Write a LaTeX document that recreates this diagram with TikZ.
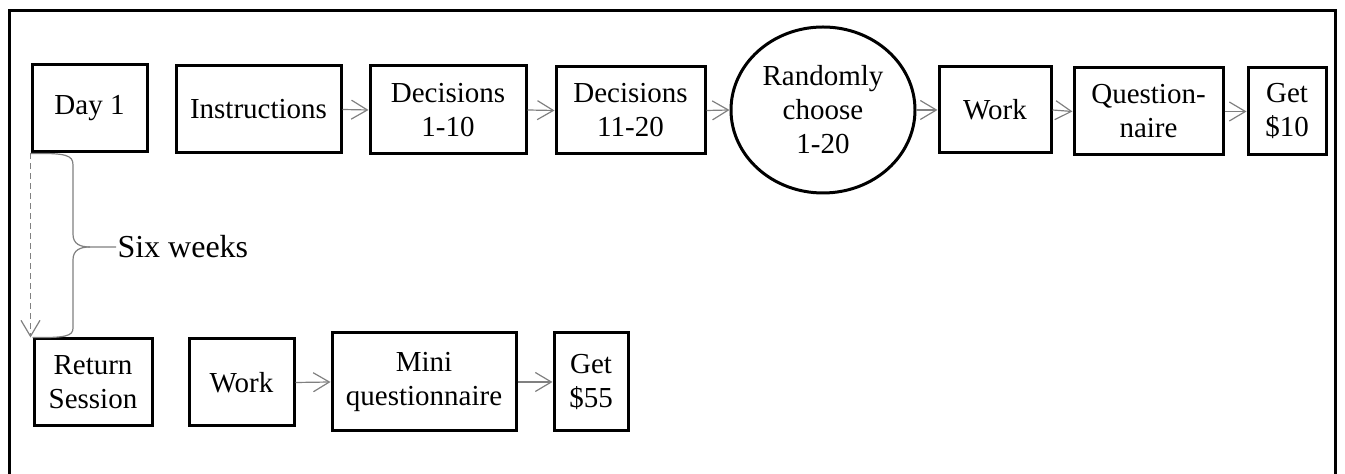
\documentclass[tikz,border=0pt]{standalone}
\usepackage{fontspec}
\setmainfont{Liberation Serif}
\usetikzlibrary{arrows.meta,shapes.geometric,positioning,calc}

\begin{document}
\begin{tikzpicture}
[x=0.5pt, y=-0.5pt, line width=1.5pt,
>={Straight Barb[length=8pt,width=9.5pt]},
stage/.style={rectangle, draw, inner sep=0pt, align=center, font=\fontsize{14.5}{17}\selectfont},
pick/.style={ellipse, draw, inner sep=0pt, align=center, font=\fontsize{14.5}{17}\selectfont},
flow/.style={->, draw=gray, line width=0.6pt},
gap/.style={->, draw=gray, line width=0.6pt, dashed, dash pattern=on 3pt off 2pt}]

\useasboundingbox (0,0) rectangle (1345,474);
\draw (9,480) -- (9,11) -- (1335,11) -- (1335,480);

\node[stage, minimum width=57.5pt, minimum height=43.5pt] (day1) at (89.5,108.5) {Day 1};
\node[stage, minimum width=82.5pt, minimum height=43.5pt] (instr) at (258.5,109.5) {Instructions};
\node[stage, minimum width=78pt, minimum height=44pt] (dec1) at (448,110) {Decisions\\1-10};
\node[stage, minimum width=74.5pt, minimum height=43.5pt] (dec2) at (630.5,110.5) {Decisions\\11-20};
\node[pick, minimum width=92pt, minimum height=83pt] (rand) at (823,110) {Randomly\\choose\\1-20};
\node[stage, minimum width=56pt, minimum height=43pt] (work1) at (995,110) {Work};
\node[stage, minimum width=74.5pt, minimum height=43.5pt] (quest) at (1148.5,111.5) {Question-\\naire};
\node[stage, minimum width=39pt, minimum height=43.5pt] (get10) at (1287,111.5) {Get\\\$10};

\node[stage, minimum width=59pt, minimum height=43.5pt] (ret) at (93,382.5) {Return\\Session};
\node[stage, minimum width=52.5pt, minimum height=43.5pt] (work2) at (241.5,382.5) {Work};
\node[stage, minimum width=92pt, minimum height=49pt] (mini) at (424,382) {Mini\\questionnaire};
\node[stage, minimum width=37pt, minimum height=49pt] (get55) at (591,382) {Get\\\$55};

\node[anchor=west, inner sep=0pt, font=\fontsize{16}{19}\selectfont] (six) at (116,247) {Six weeks};

\draw[flow] (instr.east) -- (dec1.west);
\draw[flow] (dec1.east) -- (dec2.west);
\draw[flow] (dec2.east) -- (rand.west);
\draw[flow] (rand.east) -- (work1.west);
\draw[flow] (work1.east) -- (quest.west);
\draw[flow] (quest.east) -- (get10.west);
\draw[flow] (work2.east) -- (mini.west);
\draw[flow] (mini.east) -- (get55.west);

\draw[gap] (day1.south west) -- (day1.south west |- ret.north);
\draw[draw=gray, line width=0.6pt] (day1.south west) .. controls (66,153) and (73,155) .. (73,165)
  -- (73,234) .. controls (73,244) and (80,247) .. (90,247) -- (six.west);
\draw[draw=gray, line width=0.6pt] (90,247) .. controls (80,247) and (73,250) .. (73,260)
  -- (73,328) .. controls (73,336) and (66,338) .. (ret.north west);

\end{tikzpicture}
\end{document}
